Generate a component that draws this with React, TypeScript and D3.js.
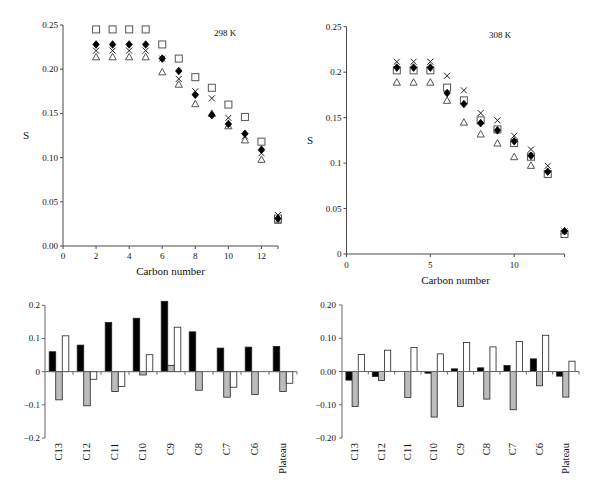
import React from "react";
import * as d3 from "d3";

const carbon298 = [2, 3, 4, 5, 6, 7, 8, 9, 10, 11, 12, 13];
const square298 = [0.245, 0.245, 0.245, 0.245, 0.228, 0.212, 0.191, 0.179, 0.16, 0.146, 0.118, 0.031];
const diamond298 = [0.228, 0.228, 0.228, 0.228, 0.212, 0.198, 0.171, 0.148, 0.138, 0.127, 0.109, 0.031];
const cross298 = [0.221, 0.221, 0.221, 0.221, 0.212, 0.189, 0.175, 0.167, 0.145, 0.124, 0.105, 0.035];
const triangle298 = [0.214, 0.214, 0.214, 0.214, 0.197, 0.183, 0.161, 0.15, 0.136, 0.12, 0.098, 0.029];

const carbon308 = [3, 4, 5, 6, 7, 8, 9, 10, 11, 12, 13];
const square308 = [0.202, 0.202, 0.202, 0.183, 0.169, 0.147, 0.137, 0.122, 0.107, 0.088, 0.022];
const diamond308 = [0.205, 0.205, 0.205, 0.177, 0.165, 0.144, 0.136, 0.124, 0.108, 0.0905, 0.025];
const cross308 = [0.2115, 0.2115, 0.2115, 0.196, 0.18, 0.155, 0.147, 0.13, 0.115, 0.097, 0.025];
const triangle308 = [0.189, 0.189, 0.189, 0.169, 0.145, 0.132, 0.122, 0.107, 0.0975, 0.089, 0.025];

const xTicks298 = [0, 2, 4, 6, 8, 10, 12];
const yTicks298 = [0, 0.05, 0.1, 0.15, 0.2, 0.25];
const xTicks308 = [0, 5, 10];
const yTicks308 = [0, 0.05, 0.1, 0.15, 0.2, 0.25];

const categories = ["C13", "C12", "C11", "C10", "C9", "C8", "C7", "C6", "Plateau"];
const leftBlack = [0.06, 0.08, 0.148, 0.161, 0.212, 0.12, 0.071, 0.074, 0.076];
const leftGray = [-0.085, -0.103, -0.06, -0.01, 0.019, -0.056, -0.077, -0.069, -0.06];
const leftWhite = [0.108, -0.023, -0.045, 0.051, 0.134, 0, -0.047, 0, -0.035];
const rightBlack = [-0.026, -0.015, 0, -0.005, 0.008, 0.011, 0.018, 0.038, -0.014];
const rightGray = [-0.105, -0.027, -0.078, -0.137, -0.105, -0.083, -0.115, -0.043, -0.077];
const rightWhite = [0.051, 0.064, 0.072, 0.053, 0.087, 0.074, 0.09, 0.109, 0.031];
const barTicks = [-0.2, -0.1, 0, 0.1, 0.2];

const FONT = "'Liberation Serif', 'DejaVu Serif', serif";
const AX = "#4a4a4a";

type Marker = "square" | "diamond" | "cross" | "triangle";

function MarkerShape({ kind, x, y }: { kind: Marker; x: number; y: number }) {
  if (kind === "square")
    return <rect x={x - 3.5} y={y - 3.5} width={7} height={7} fill="white" stroke="#555" strokeWidth={1} />;
  if (kind === "diamond")
    return <path d={`M${x},${y - 3.8}L${x + 3.2},${y}L${x},${y + 3.8}L${x - 3.2},${y}Z`} fill="#000" stroke="#000" strokeWidth={0.8} strokeLinejoin="round" />;
  if (kind === "cross")
    return <path d={`M${x - 3},${y - 3}L${x + 3},${y + 3}M${x - 3},${y + 3}L${x + 3},${y - 3}`} stroke="#222" strokeWidth={1} fill="none" />;
  return <path d={`M${x},${y - 3.5}L${x + 3.6},${y + 3}L${x - 3.6},${y + 3}Z`} fill="white" stroke="#555" strokeWidth={1} />;
}

function Scatter(props: {
  x0: number; x1: number; y0: number; y1: number;
  xTicks: number[]; yTicks: number[]; yFmt: (v: number) => string;
  xs: number[]; series: { kind: Marker; vals: number[] }[];
  label: string; labelX: number; labelY: number; sX: number; titleY: number; tickY: number;
}) {
  const x = d3.scaleLinear().domain([0, 13]).range([props.x0, props.x1]);
  const y = d3.scaleLinear().domain([0, 0.25]).range([props.y0, props.y1]);
  return (
    <g fontFamily={FONT} fill="#111">
      <line x1={props.x0} x2={props.x0} y1={props.y0} y2={props.y1} stroke={AX} />
      <line x1={props.x0} x2={props.x1} y1={props.y0} y2={props.y0} stroke={AX} />
      {props.yTicks.map((t) => (
        <g key={"y" + t}>
          <line x1={props.x0 - 3} x2={props.x0} y1={y(t)} y2={y(t)} stroke={AX} />
          <text x={props.x0 - 5} y={y(t) + 3} textAnchor="end" fontSize={9}>{props.yFmt(t)}</text>
        </g>
      ))}
      {props.xTicks.map((t) => (
        <g key={"x" + t}>
          <line x1={x(t)} x2={x(t)} y1={props.y0} y2={props.y0 + 3} stroke={AX} />
          <text x={x(t)} y={props.tickY} textAnchor="middle" fontSize={9}>{t}</text>
        </g>
      ))}
      <line x1={props.x1} x2={props.x1} y1={props.y0} y2={props.y0 + 3} stroke={AX} />
      {props.series.map((s, si) =>
        s.vals.map((v, i) => <MarkerShape key={si + "-" + i} kind={s.kind} x={x(props.xs[i])} y={y(v)} />)
      )}
      <text x={props.labelX} y={props.labelY} fontSize={9}>{props.label}</text>
      <text x={props.sX} y={y(0.125) + 3.5} textAnchor="middle" fontSize={11}>S</text>
      <text x={(props.x0 + props.x1) / 2} y={props.titleY} textAnchor="middle" fontSize={11}>Carbon number</text>
    </g>
  );
}

function Bars(props: {
  x0: number; x1: number; y0: number; y1: number;
  black: number[]; gray: number[]; white: number[]; fmt: (v: number) => string; labelX: number;
}) {
  const xb = d3.scaleBand<string>().domain(categories).range([props.x0, props.x1]).paddingInner(0.3).paddingOuter(0.15);
  const y = d3.scaleLinear().domain([-0.2, 0.2]).range([props.y0, props.y1]);
  const bw = xb.bandwidth() / 3;
  const step = xb.step();
  const series = [
    { vals: props.black, fill: "#000" },
    { vals: props.gray, fill: "#bcbcbc" },
    { vals: props.white, fill: "#fff" },
  ];
  return (
    <g fontFamily={FONT} fill="#111">
      {series.map((s, si) =>
        s.vals.map((v, i) => {
          const bx = (xb(categories[i]) as number) + si * bw;
          return (
            <rect key={si + "-" + i} x={bx} width={bw} y={Math.min(y(v), y(0))} height={Math.abs(y(v) - y(0))}
              fill={s.fill} stroke="#222" strokeWidth={0.8} />
          );
        })
      )}
      <line x1={props.x0} x2={props.x0} y1={props.y0} y2={props.y1} stroke="#666" />
      <line x1={props.x0} x2={props.x1} y1={y(0)} y2={y(0)} stroke="#666" />
      {categories.map((c, i) => (
        <line key={"t" + c} x1={props.x0 + (i + 1) * step} x2={props.x0 + (i + 1) * step} y1={y(0)} y2={y(0) + 3} stroke="#666" />
      ))}
      {barTicks.map((t) => (
        <g key={"y" + t}>
          <line x1={props.x0 - 3} x2={props.x0} y1={y(t)} y2={y(t)} stroke="#666" />
          <text x={props.labelX} y={y(t) + 3} textAnchor="end" fontSize={9}>{props.fmt(t)}</text>
        </g>
      ))}
      {categories.map((c) => {
        const cx = (xb(c) as number) + xb.bandwidth() / 2 + 3;
        return (
          <text key={"l" + c} transform={`translate(${cx},${props.y0 + 5}) rotate(-90)`} textAnchor="end" fontSize={10.5}>{c}</text>
        );
      })}
    </g>
  );
}

const fmtLeftBar = (v: number) => (v === 0 ? "0" : (v < 0 ? "\u2212" : "") + String(Math.abs(v)));
const fmtRightBar = (v: number) => (v < 0 ? "\u2212" : "") + Math.abs(v).toFixed(2);
const fmt298 = (v: number) => v.toFixed(2);
const fmt308 = (v: number) => String(v);

export default function App() {
  return (
    <svg width={600} height={494} style={{ position: "absolute", left: 0, top: 0, background: "#fff" }}>
      <rect width={600} height={494} fill="#fff" />
      <Scatter x0={63} x1={278} y0={246} y1={25} xTicks={xTicks298} yTicks={yTicks298} yFmt={fmt298}
        xs={carbon298}
        series={[
          { kind: "triangle", vals: triangle298 },
          { kind: "cross", vals: cross298 },
          { kind: "square", vals: square298 },
          { kind: "diamond", vals: diamond298 },
        ]}
        label="298 K" labelX={214} labelY={36} sX={26} titleY={275} tickY={259} />
      <Scatter x0={346.5} x1={564.5} y0={254} y1={26.7} xTicks={xTicks308} yTicks={yTicks308} yFmt={fmt308}
        xs={carbon308}
        series={[
          { kind: "triangle", vals: triangle308 },
          { kind: "square", vals: square308 },
          { kind: "cross", vals: cross308 },
          { kind: "diamond", vals: diamond308 },
        ]}
        label="308 K" labelX={489} labelY={38} sX={310} titleY={284} tickY={268} />
      <Bars x0={45} x1={297} y0={438} y1={305.3} black={leftBlack} gray={leftGray} white={leftWhite} fmt={fmtLeftBar} labelX={40} />
      <Bars x0={342} x1={579} y0={438} y1={305} black={rightBlack} gray={rightGray} white={rightWhite} fmt={fmtRightBar} labelX={336} />
    </svg>
  );
}
